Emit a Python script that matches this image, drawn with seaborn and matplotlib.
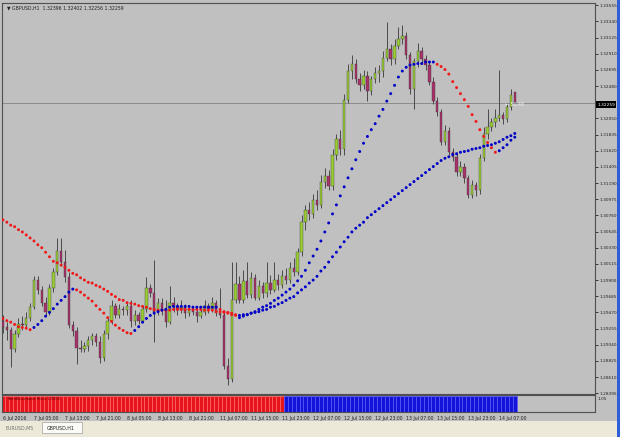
import numpy as np
import pandas as pd
import matplotlib
matplotlib.use("Agg")
import matplotlib.pyplot as plt
from matplotlib.patches import Rectangle
import seaborn as sns

# ---- data (GBPUSD, H1) ----
SYMBOL = "GBPUSD,H1"
HEADER_OHLC = "1.32396 1.32402 1.32256 1.32259"
LAST_PRICE = 1.32259
SPREAD_TEXT = "\u2190 51.48"

opens = [
    1.2936, 1.2928, 1.2923, 1.2899, 1.2918, 1.2932, 1.2930, 1.2939, 1.2954, 1.2990,
    1.2977, 1.2960, 1.2947, 1.2979, 1.3001, 1.3029, 1.3014, 1.2994, 1.2930, 1.2922,
    1.2900, 1.2899, 1.2902, 1.2910, 1.2915, 1.2907, 1.2886, 1.2918, 1.2935, 1.2955,
    1.2944, 1.2952, 1.2950, 1.2955, 1.2935, 1.2943, 1.2936, 1.2952, 1.2979, 1.2973,
    1.2947, 1.2959, 1.2950, 1.2934, 1.2960, 1.2955, 1.2950, 1.2954, 1.2946, 1.2951,
    1.2947, 1.2942, 1.2947, 1.2955, 1.2951, 1.2959, 1.2946, 1.2943, 1.2876, 1.2859,
    1.2963, 1.2985, 1.2964, 1.2989, 1.2970, 1.2993, 1.2966, 1.2982, 1.2973, 1.2986,
    1.2977, 1.2990, 1.2983, 1.2995, 1.2990, 1.3006, 1.3001, 1.3027, 1.3067, 1.3083,
    1.3078, 1.3097, 1.3090, 1.3121, 1.3129, 1.3115, 1.3157, 1.3177, 1.3164, 1.3230,
    1.3268, 1.3278, 1.3257, 1.3249, 1.3262, 1.3241, 1.3257, 1.3265, 1.3268, 1.3286,
    1.3297, 1.3284, 1.3301, 1.3310, 1.3314, 1.3289, 1.3244, 1.3281, 1.3294, 1.3284,
    1.3276, 1.3254, 1.3228, 1.3213, 1.3174, 1.3188, 1.3161, 1.3154, 1.3134, 1.3141,
    1.3126, 1.3103, 1.3117, 1.3110, 1.3153, 1.3184, 1.3193, 1.3200, 1.3206, 1.3209,
    1.3204, 1.3220, 1.32396,
]
highs = [
    1.2943, 1.2934, 1.2928, 1.2923, 1.2939, 1.2942, 1.2947, 1.2959, 1.2995, 1.2995,
    1.2982, 1.2968, 1.2985, 1.3006, 1.3046, 1.3046, 1.3030, 1.3001, 1.2936, 1.2927,
    1.2910, 1.2907, 1.2915, 1.2920, 1.2919, 1.2915, 1.2923, 1.2939, 1.2963, 1.2960,
    1.2958, 1.2956, 1.2960, 1.2963, 1.2950, 1.2947, 1.2956, 1.2994, 1.2985, 1.3017,
    1.2966, 1.2966, 1.2963, 1.2982, 1.2967, 1.2960, 1.2963, 1.2958, 1.2955, 1.2956,
    1.2952, 1.2952, 1.2963, 1.2959, 1.2968, 1.2963, 1.2979, 1.2950, 1.2886, 1.3014,
    1.3014, 1.2995, 1.3003, 1.3014, 1.3001, 1.2998, 1.2990, 1.2987, 1.3014, 1.2997,
    1.3014, 1.2998, 1.3003, 1.3006, 1.3014, 1.3019, 1.3033, 1.3077, 1.3090, 1.3094,
    1.3105, 1.3110, 1.3130, 1.3139, 1.3137, 1.3164, 1.3184, 1.3190, 1.3237, 1.3277,
    1.3290, 1.3284, 1.3265, 1.3270, 1.3268, 1.3262, 1.3273, 1.3276, 1.3294, 1.3333,
    1.3304, 1.3310, 1.3326, 1.3329, 1.3320, 1.3293, 1.3286, 1.3305, 1.3300, 1.3290,
    1.3281, 1.3260, 1.3233, 1.3217, 1.3196, 1.3193, 1.3166, 1.3160, 1.3148, 1.3146,
    1.3130, 1.3123, 1.3121, 1.3158, 1.3193, 1.3217, 1.3206, 1.3217, 1.3270, 1.3214,
    1.3226, 1.3244, 1.32402,
]
lows = [
    1.2920, 1.2910, 1.2875, 1.2894, 1.2914, 1.2923, 1.2926, 1.2936, 1.2951, 1.2971,
    1.2956, 1.2942, 1.2944, 1.2974, 1.2997, 1.3009, 1.2987, 1.2926, 1.2915, 1.2879,
    1.2894, 1.2894, 1.2896, 1.2904, 1.2902, 1.2880, 1.2883, 1.2912, 1.2931, 1.2939,
    1.2939, 1.2944, 1.2944, 1.2928, 1.2930, 1.2931, 1.2934, 1.2948, 1.2968, 1.2907,
    1.2944, 1.2944, 1.2928, 1.2931, 1.2947, 1.2944, 1.2946, 1.2939, 1.2942, 1.2943,
    1.2934, 1.2939, 1.2943, 1.2946, 1.2947, 1.2942, 1.2939, 1.2872, 1.2850, 1.2854,
    1.2959, 1.2960, 1.2960, 1.2966, 1.2966, 1.2963, 1.2963, 1.2966, 1.2968, 1.2971,
    1.2974, 1.2977, 1.2979, 1.2985, 1.2986, 1.2995, 1.2997, 1.3022, 1.3057, 1.3070,
    1.3073, 1.3083, 1.3086, 1.3113, 1.3110, 1.3110, 1.3150, 1.3157, 1.3157, 1.3225,
    1.3257, 1.3252, 1.3241, 1.3244, 1.3228, 1.3236, 1.3252, 1.3254, 1.3260, 1.3281,
    1.3276, 1.3278, 1.3297, 1.3304, 1.3284, 1.3237, 1.3217, 1.3273, 1.3278, 1.3270,
    1.3249, 1.3224, 1.3208, 1.3170, 1.3169, 1.3156, 1.3148, 1.3129, 1.3129, 1.3119,
    1.3099, 1.3099, 1.3102, 1.3105, 1.3148, 1.3177, 1.3188, 1.3193, 1.3201, 1.3198,
    1.3200, 1.3216, 1.32256,
]
closes = [
    1.2928, 1.2923, 1.2899, 1.2918, 1.2932, 1.2930, 1.2939, 1.2954, 1.2990, 1.2977,
    1.2960, 1.2947, 1.2979, 1.3001, 1.3029, 1.3014, 1.2994, 1.2930, 1.2922, 1.2900,
    1.2899, 1.2902, 1.2910, 1.2915, 1.2907, 1.2886, 1.2918, 1.2935, 1.2955, 1.2944,
    1.2952, 1.2950, 1.2955, 1.2935, 1.2943, 1.2936, 1.2952, 1.2979, 1.2973, 1.2947,
    1.2959, 1.2950, 1.2934, 1.2960, 1.2955, 1.2950, 1.2954, 1.2946, 1.2951, 1.2947,
    1.2942, 1.2947, 1.2955, 1.2951, 1.2959, 1.2946, 1.2943, 1.2876, 1.2859, 1.2963,
    1.2985, 1.2964, 1.2989, 1.2970, 1.2993, 1.2966, 1.2982, 1.2973, 1.2986, 1.2977,
    1.2990, 1.2983, 1.2995, 1.2990, 1.3006, 1.3001, 1.3027, 1.3067, 1.3083, 1.3078,
    1.3097, 1.3090, 1.3121, 1.3129, 1.3115, 1.3157, 1.3177, 1.3164, 1.3230, 1.3268,
    1.3278, 1.3257, 1.3249, 1.3262, 1.3241, 1.3257, 1.3265, 1.3268, 1.3286, 1.3297,
    1.3284, 1.3301, 1.3310, 1.3314, 1.3289, 1.3244, 1.3281, 1.3294, 1.3284, 1.3276,
    1.3254, 1.3228, 1.3213, 1.3174, 1.3188, 1.3161, 1.3154, 1.3134, 1.3141, 1.3126,
    1.3103, 1.3117, 1.3110, 1.3153, 1.3184, 1.3193, 1.3200, 1.3206, 1.3209, 1.3204,
    1.3220, 1.3236, 1.32259,
]

# slow and fast envelope dots (one per bar)
slow_env = [
    1.3070, 1.3067, 1.3063, 1.3061, 1.3057, 1.3054, 1.3050, 1.3046, 1.3042, 1.3037,
    1.3033, 1.3027, 1.3021, 1.3015, 1.3013, 1.3010, 1.3007, 1.3003, 1.2999, 1.2997,
    1.2993, 1.2990, 1.2987, 1.2986, 1.2983, 1.2981, 1.2978, 1.2975, 1.2971, 1.2968,
    1.2964, 1.2963, 1.2960, 1.2959, 1.2958, 1.2956, 1.2955, 1.2954, 1.2952, 1.2951,
    1.2950, 1.2950, 1.2950, 1.2950, 1.2951, 1.2951, 1.2951, 1.2951, 1.2951, 1.2951,
    1.2951, 1.2951, 1.2950, 1.2950, 1.2950, 1.2948, 1.2948, 1.2947, 1.2946, 1.2946,
    1.2944, 1.2943, 1.2944, 1.2944, 1.2946, 1.2947, 1.2948, 1.2950, 1.2951, 1.2954,
    1.2955, 1.2958, 1.2960, 1.2963, 1.2966, 1.2968, 1.2973, 1.2977, 1.2981, 1.2986,
    1.2990, 1.2995, 1.3002, 1.3007, 1.3014, 1.3021, 1.3027, 1.3034, 1.3041, 1.3047,
    1.3054, 1.3059, 1.3063, 1.3067, 1.3073, 1.3077, 1.3081, 1.3085, 1.3089, 1.3093,
    1.3097, 1.3101, 1.3105, 1.3109, 1.3113, 1.3117, 1.3121, 1.3125, 1.3129, 1.3133,
    1.3137, 1.3141, 1.3145, 1.3149, 1.3152, 1.3154, 1.3157, 1.3158, 1.3160, 1.3161,
    1.3162, 1.3164, 1.3165, 1.3166, 1.3168, 1.3169, 1.3170, 1.3172, 1.3174, 1.3177,
    1.3180, 1.3182, 1.3185,
]
fast_env = [
    1.2939, 1.2936, 1.2934, 1.2931, 1.2928, 1.2927, 1.2926, 1.2924, 1.2927, 1.2931,
    1.2936, 1.2942, 1.2947, 1.2952, 1.2958, 1.2963, 1.2968, 1.2974, 1.2978, 1.2977,
    1.2974, 1.2970, 1.2966, 1.2962, 1.2956, 1.2951, 1.2946, 1.2940, 1.2935, 1.2930,
    1.2926, 1.2923, 1.2920, 1.2919, 1.2923, 1.2928, 1.2934, 1.2939, 1.2943, 1.2946,
    1.2948, 1.2950, 1.2951, 1.2954, 1.2955, 1.2955, 1.2955, 1.2955, 1.2955, 1.2954,
    1.2954, 1.2954, 1.2954, 1.2954, 1.2954, 1.2954, 1.2951, 1.2948, 1.2947, 1.2944,
    1.2943, 1.2940, 1.2942, 1.2944, 1.2946, 1.2948, 1.2951, 1.2954, 1.2956, 1.2959,
    1.2963, 1.2966, 1.2970, 1.2974, 1.2978, 1.2983, 1.2989, 1.2995, 1.3003, 1.3013,
    1.3022, 1.3031, 1.3042, 1.3054, 1.3066, 1.3078, 1.3090, 1.3102, 1.3114, 1.3126,
    1.3138, 1.3150, 1.3161, 1.3172, 1.3181, 1.3190, 1.3198, 1.3208, 1.3217, 1.3228,
    1.3238, 1.3249, 1.3260, 1.3268, 1.3273, 1.3276, 1.3277, 1.3278, 1.3278, 1.3280,
    1.3280, 1.3280, 1.3277, 1.3274, 1.3270, 1.3264, 1.3254, 1.3246, 1.3238, 1.3230,
    1.3221, 1.3210, 1.3201, 1.3190, 1.3181, 1.3173, 1.3166, 1.3160, 1.3162, 1.3166,
    1.3170, 1.3176, 1.3180,
]

# trend segments (first bar, last bar)
slow_trend = [("down", 0, 60), ("up", 61, 132)]
fast_trend = [("down", 0, 7), ("up", 8, 18), ("down", 19, 33), ("up", 34, 55),
              ("down", 56, 60), ("up", 61, 111), ("down", 112, 127), ("up", 128, 132)]
histo_trend = [("down", 0, 72), ("up", 73, 132)]

price_labels = ["1.33555", "1.33340", "1.33125", "1.32910", "1.32695", "1.32480",
                "1.32050", "1.31835", "1.31620", "1.31405", "1.31190", "1.30975",
                "1.30760", "1.30545", "1.30330", "1.30115", "1.29900", "1.29685",
                "1.29470", "1.29255", "1.29040", "1.28825", "1.28610", "1.28395"]
date_labels = ["6 Jul 2016", "7 Jul 05:00", "7 Jul 13:00", "7 Jul 21:00",
               "8 Jul 05:00", "8 Jul 13:00", "8 Jul 21:00", "11 Jul 07:00",
               "11 Jul 15:00", "11 Jul 23:00", "12 Jul 07:00", "12 Jul 15:00",
               "12 Jul 23:00", "13 Jul 07:00", "13 Jul 15:00", "13 Jul 23:00",
               "14 Jul 07:00"]
tabs = ["EURUSD,M5", "GBPUSD,H1"]

# ---- styling ----
BG = "#C0C0C0"
BULL = "#9ACD32"
BEAR = "#A8326A"
WICK = "#4A4A4A"
RED = "#F01818"
BLUE = "#0000C8"

sns.set_style("white")
plt.rcParams["font.family"] = ["DejaVu Sans"]

W, H = 620, 437
fig = plt.figure(figsize=(W / 100, H / 100), dpi=100)
fig.patch.set_facecolor(BG)


def fx(px):
    return px / W


def fy(py):
    return 1 - py / H


def trend_labels(segments, n):
    lab = [""] * n
    for name, a, b in segments:
        for i in range(a, b + 1):
            lab[i] = name
    return lab


n = len(closes)
df = pd.DataFrame({"open": opens, "high": highs, "low": lows, "close": closes})
df["bar"] = np.arange(n)
up = df["close"] >= df["open"]

# ---- main price window ----
ax = fig.add_axes([fx(2), fy(394), fx(595) - fx(2), fy(3) - fy(394)])
ax.set_facecolor(BG)
ax.set_xlim(-0.25, 152.7)
ax.set_ylim(1.28385, 1.33585)

ax.axhline(LAST_PRICE, color="#8C8C8C", lw=0.7, zorder=1)

ax.vlines(df["bar"], df["low"], df["high"], color=WICK, lw=0.7, zorder=2)
for mask, col in [(up, BULL), (~up, BEAR)]:
    d = df[mask]
    h = (d["close"] - d["open"]).abs().clip(lower=0.00004)
    ax.bar(d["bar"], h, bottom=d[["open", "close"]].min(axis=1), width=0.62,
           color=col, edgecolor="#303030", linewidth=0.25, zorder=3)

dots = pd.concat([
    pd.DataFrame({"bar": np.arange(n), "price": slow_env,
                  "trend": trend_labels(slow_trend, n)}),
    pd.DataFrame({"bar": np.arange(n), "price": fast_env,
                  "trend": trend_labels(fast_trend, n)}),
])
sns.scatterplot(data=dots, x="bar", y="price", hue="trend",
                palette={"down": RED, "up": BLUE}, s=4.5, marker="o",
                linewidth=0, legend=False, ax=ax, zorder=4)

ax.set_xlabel("")
ax.set_ylabel("")
ax.set_xticks([])
ax.yaxis.tick_right()
ax.set_yticks([float(v) for v in price_labels])
ax.set_yticklabels(price_labels)
ax.tick_params(axis="y", length=2, width=0.6, pad=1, labelsize=3.1,
               colors="#202020", direction="out")
for s in ax.spines.values():
    s.set_color("#505050")
    s.set_linewidth(0.8)

ax.text(1, 1.3352, "\u25bc " + SYMBOL + "  " + HEADER_OHLC, fontsize=3.3,
        color="#202020", va="center", ha="left")
ax.text(129.5, LAST_PRICE - 0.0002, SPREAD_TEXT, fontsize=3.4, color="#F4F4F4",
        va="center", ha="left")

# current price box on the axis
fig.patches.append(Rectangle((fx(596), fy(108)), fx(20), fy(101) - fy(108),
                             transform=fig.transFigure, facecolor="black",
                             edgecolor="none", zorder=5))
fig.text(fx(606), fy(104.5), f"{LAST_PRICE:.5f}", fontsize=3.1, color="white",
         ha="center", va="center", zorder=6)

# ---- indicator sub-window ----
ax2 = fig.add_axes([fx(2), fy(412), fx(595) - fx(2), fy(395) - fy(412)])
ax2.set_facecolor(BG)
hist = pd.DataFrame({"bar": np.arange(n), "trend": trend_labels(histo_trend, n)})
for name, col, edge in [("down", "#E8141C", "#FF6A6A"), ("up", "#1414D8", "#5A5AFF")]:
    d = hist[hist["trend"] == name]
    ax2.bar(d["bar"], 1.0, width=1.0, color=col, edgecolor=edge, linewidth=0.5)
ax2.set_xlim(ax.get_xlim())
ax2.set_ylim(0, 1.05)
ax2.set_yticks([])
ax2.set_xticks(np.arange(len(date_labels)) * 8)
ax2.set_xticklabels(date_labels, ha="left")
ax2.tick_params(axis="x", length=2, width=0.6, pad=0.6, labelsize=3.3,
                colors="#202020")
for s in ax2.spines.values():
    s.set_color("#505050")
    s.set_linewidth(0.8)
ax2.text(1, 0.82, "TrendEnvelopes Histo 1.0000", fontsize=2.6, color="#600000",
         va="center", ha="left")
fig.text(fx(598), fy(399), "1.05", fontsize=3.1, color="#202020", va="center")

# ---- tab bar and window border ----
fig.patches.append(Rectangle((0, 0), 1, fy(421), transform=fig.transFigure,
                             facecolor="#ECE9D8", edgecolor="none", zorder=0))
fig.patches.append(Rectangle((fx(42), fy(433)), fx(40), fy(422) - fy(433),
                             transform=fig.transFigure, facecolor="#FAFAF6",
                             edgecolor="#A0A0A0", linewidth=0.5, zorder=1))
fig.text(fx(6), fy(428), tabs[0], fontsize=3.4, color="#707070", va="center")
fig.text(fx(47), fy(428), tabs[1], fontsize=3.4, color="#202020", va="center")
fig.patches.append(Rectangle((fx(616.5), 0), fx(3.5), 1, transform=fig.transFigure,
                             facecolor="#2E5FD8", edgecolor="none", zorder=2))

fig.savefig("out.png", dpi=100, facecolor=fig.get_facecolor())
